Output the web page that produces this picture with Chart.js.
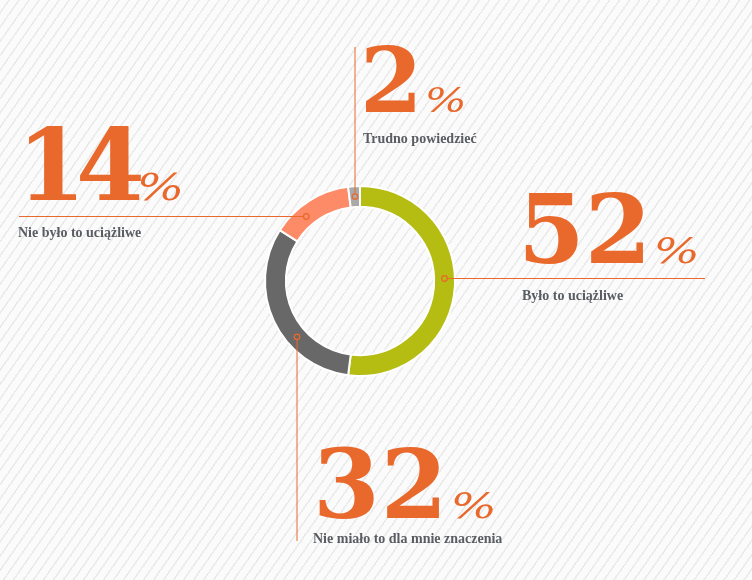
<!DOCTYPE html>
<html><head><meta charset="utf-8">
<script src="https://cdn.jsdelivr.net/npm/chart.js@4.4.1/dist/chart.umd.min.js"></script>
<style>
html,body{margin:0;padding:0;}
body{width:752px;height:580px;overflow:hidden;background-color:#fbfbfb;
background-image:repeating-linear-gradient(125deg, rgba(0,0,0,0) 0px, rgba(0,0,0,0) 6.6px, #ebebeb 6.6px, #ebebeb 8.2px);}
#wrap{position:relative;width:752px;height:580px;}
</style></head><body>
<div id="wrap"><canvas id="c" width="752" height="580"></canvas></div>
<script>
// ---- data ----
const categories = ['Było to uciążliwe', 'Nie miało to dla mnie znaczenia', 'Nie było to uciążliwe', 'Trudno powiedzieć'];
const values = [52, 32, 14, 2];
const valueLabels = ['52', '32', '14', '2'];
const segmentColors = ['#b5bd13', '#676867', '#fe8b68', '#a9a9a9'];

// ---- callout layout (annotation only) ----
const callouts = [
  { frac: 0.47, dir: 'right', end: 705, num: { x: 518, y: 263, size: 96, ls: 0 }, label: { x: 522, y: 300 } },
  { frac: 0.36, dir: 'down',  end: 541, num: { x: 313, y: 518, size: 96, ls: 1 }, label: { x: 313, y: 543 } },
  { frac: 0.36, dir: 'left',  end: 19,  num: { x: 17,  y: 200, size: 99, ls: -10 }, label: { x: 18,  y: 237 } },
  { frac: 0.55, dir: 'up',    end: 47,  num: { x: 360, y: 112, size: 90, ls: 0 }, label: { x: 363, y: 143 } }
];
const ORANGE = '#e9692c';
const LABEL_GRAY = '#595d63';

const calloutPlugin = {
  id: 'callouts',
  afterDraw(chart) {
    const ctx = chart.ctx;
    const meta = chart.getDatasetMeta(0);
    meta.data.forEach((arc, i) => {
      const co = callouts[i];
      const p = arc.getProps(['x', 'y', 'startAngle', 'endAngle', 'innerRadius', 'outerRadius'], true);
      const a = p.startAngle + (p.endAngle - p.startAngle) * co.frac;
      const r = (p.innerRadius + p.outerRadius) / 2;
      let px = p.x + Math.cos(a) * r, py = p.y + Math.sin(a) * r;
      ctx.save();
      ctx.strokeStyle = ORANGE;
      ctx.lineWidth = 1;
      ctx.beginPath();
      if (co.dir === 'right' || co.dir === 'left') {
        py = Math.round(py) + 0.5;
        ctx.moveTo(px, py); ctx.lineTo(co.end, py);
      } else {
        px = Math.round(px);
        ctx.moveTo(px, py); ctx.lineTo(px, co.end);
      }
      ctx.stroke();
      ctx.beginPath();
      ctx.arc(px, py, 2.8, 0, Math.PI * 2);
      ctx.fillStyle = segmentColors[i];
      ctx.fill();
      ctx.lineWidth = 1.3;
      ctx.stroke();

      // big number
      ctx.fillStyle = ORANGE;
      ctx.textBaseline = 'alphabetic';
      ctx.textAlign = 'left';
      ctx.font = 'bold ' + co.num.size + 'px "DejaVu Serif"';
      ctx.letterSpacing = co.num.ls + 'px';
      ctx.fillText(valueLabels[i], co.num.x, co.num.y);
      const w = ctx.measureText(valueLabels[i]).width;
      ctx.letterSpacing = '0px';
      ctx.font = 'italic ' + Math.round(co.num.size * 0.37) + 'px "DejaVu Serif"';
      ctx.save();
      ctx.translate(co.num.x + w + 2, co.num.y);
      ctx.scale(1.35, 1);
      ctx.fillText('%', 0, 0);
      ctx.restore();

      // label
      ctx.fillStyle = LABEL_GRAY;
      ctx.font = 'bold 14px "Liberation Serif"';
      ctx.fillText(categories[i], co.label.x, co.label.y);
      ctx.restore();
    });
  }
};

new Chart(document.getElementById('c'), {
  type: 'doughnut',
  data: {
    labels: categories,
    datasets: [{
      data: values,
      backgroundColor: segmentColors,
      borderColor: '#ffffff',
      borderWidth: 2
    }]
  },
  options: {
    responsive: false,
    animation: false,
    cutout: '78%',
    layout: { padding: { left: 264, right: 296, top: 185, bottom: 203 } },
    plugins: { legend: { display: false }, tooltip: { enabled: false } }
  },
  plugins: [calloutPlugin]
});
</script>
</body></html>
